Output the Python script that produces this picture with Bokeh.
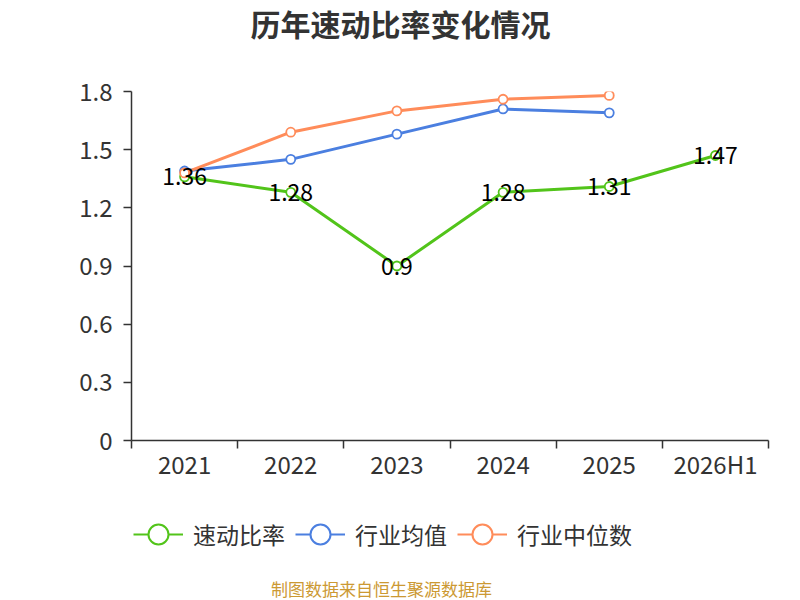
from bokeh.plotting import figure
from bokeh.layouts import column
from bokeh.models import (FixedTicker, Legend, LegendItem, ColumnDataSource,
                          Range1d, LinearAxis, Label)
from bokeh.core.properties import value
from bokeh.embed import file_html
from bokeh.resources import INLINE

categories = ["2021", "2022", "2023", "2024", "2025", "2026H1"]
quick_ratio = [1.36, 1.28, 0.9, 1.28, 1.31, 1.47]
industry_mean = [1.39, 1.45, 1.58, 1.71, 1.69]
industry_median = [1.38, 1.59, 1.70, 1.76, 1.78]
y_ticks = [0, 0.3, 0.6, 0.9, 1.2, 1.5, 1.8]
y_tick_labels = ["0", "0.3", "0.6", "0.9", "1.2", "1.5", "1.8"]
series_names = ["速动比率", "行业均值", "行业中位数"]
title_text = "历年速动比率变化情况"
source_text = "制图数据来自恒生聚源数据库"

FONT = "Noto Sans CJK SC"
GREEN = "#52c41a"
BLUE = "#4b7fe0"
ORANGE = "#ff8c5a"
colors = [GREEN, BLUE, ORANGE]
values = [quick_ratio, industry_mean, industry_median]

FRAME_LEFT = 131  # frames of all stacked figures are aligned to the main chart


def blank(height):
    f = figure(width=800, height=height, output_backend="svg", toolbar_location=None,
               x_range=Range1d(0, 800), y_range=Range1d(0, height),
               min_border=0, x_axis_type=None, y_axis_type=None)
    f.outline_line_color = None
    f.xgrid.visible = False
    f.ygrid.visible = False
    return f


# ---- title strip
top = blank(45)
top.add_layout(Label(x=400 - FRAME_LEFT, y=23, x_units="screen", y_units="screen",
                     text=title_text, text_align="center", text_baseline="middle",
                     text_font=FONT, text_font_size="30px", text_font_style="bold",
                     text_color="#333333"))

# ---- main chart
p = figure(width=800, height=460, output_backend="svg", toolbar_location=None,
           x_range=Range1d(0, len(categories)), y_range=Range1d(0, 1.8),
           min_border_left=FRAME_LEFT, min_border_right=32, min_border_top=46,
           min_border_bottom=65, x_axis_type=None, y_axis_type=None)
p.outline_line_color = None

xaxis = LinearAxis(ticker=FixedTicker(ticks=[i + 0.5 for i in range(len(categories))],
                                      minor_ticks=list(range(len(categories) + 1))))
xaxis.major_label_overrides = {i + 0.5: c for i, c in enumerate(categories)}
xaxis.major_tick_out = 0
xaxis.major_tick_in = 0
xaxis.minor_tick_out = 8
xaxis.minor_tick_in = 0
xaxis.axis_line_color = "#333333"
xaxis.axis_line_width = 1.5
xaxis.minor_tick_line_color = "#333333"
xaxis.minor_tick_line_width = 1.5
xaxis.major_label_text_font = FONT
xaxis.major_label_text_font_size = "24px"
xaxis.major_label_text_color = "#333333"
xaxis.major_label_standoff = -3
p.add_layout(xaxis, "below")

yaxis = LinearAxis(ticker=FixedTicker(ticks=y_ticks, minor_ticks=[]))
yaxis.major_label_overrides = {t: l for t, l in zip(y_ticks, y_tick_labels)}
yaxis.major_tick_out = 8
yaxis.major_tick_in = 0
yaxis.axis_line_color = "#333333"
yaxis.axis_line_width = 1.5
yaxis.major_tick_line_color = "#333333"
yaxis.major_tick_line_width = 1.5
yaxis.major_label_text_font = FONT
yaxis.major_label_text_font_size = "24px"
yaxis.major_label_text_color = "#333333"
yaxis.major_label_standoff = 11
p.add_layout(yaxis, "left")

p.xgrid.visible = False
p.ygrid.ticker = FixedTicker(ticks=y_ticks[1:])
p.ygrid.grid_line_color = "#cccccc"
p.ygrid.grid_line_dash = "6 5"
p.ygrid.grid_line_width = 1.5

x_all = [i + 0.5 for i in range(len(categories))]

for vals, col in zip(values, colors):
    src = ColumnDataSource(dict(x=x_all[:len(vals)], y=vals))
    p.line("x", "y", source=src, line_color=col, line_width=3)
    p.scatter("x", "y", source=src, size=9, fill_color="white",
              line_color=col, line_width=1.8)

lbl_src = ColumnDataSource(dict(x=x_all, y=quick_ratio, t=[f"{v:g}" for v in quick_ratio]))
p.text("x", "y", text="t", source=lbl_src, text_align="center", text_baseline="middle",
       text_font=value(FONT), text_font_size="23px", text_color="#000000")

# ---- legend + source strip
bot = blank(95)
items = []
for name, col in zip(series_names, colors):
    offscreen = ColumnDataSource(dict(x=[-1000], y=[-1000]))
    ln = bot.line("x", "y", source=offscreen, line_color=col, line_width=2)
    sc = bot.scatter("x", "y", source=offscreen, fill_color="white", line_color=col,
                     line_width=2)
    items.append(LegendItem(label=name, renderers=[ln, sc]))
legend = Legend(items=items, orientation="horizontal", location=(133 - FRAME_LEFT, 38),
                glyph_width=50, glyph_height=56, label_standoff=10, spacing=10,
                label_text_font=FONT, label_text_font_size="23px",
                label_text_color="#333333", border_line_color=None,
                background_fill_alpha=0, margin=0, padding=0)
bot.add_layout(legend, "center")
bot.add_layout(Label(x=381 - FRAME_LEFT, y=12, x_units="screen", y_units="screen",
                     text=source_text, text_align="center", text_baseline="middle",
                     text_font=FONT, text_font_size="17px", text_color="#cc9933"))

layout = column(top, p, bot, spacing=0)
open("out.html", "w").write(file_html(layout, INLINE))
